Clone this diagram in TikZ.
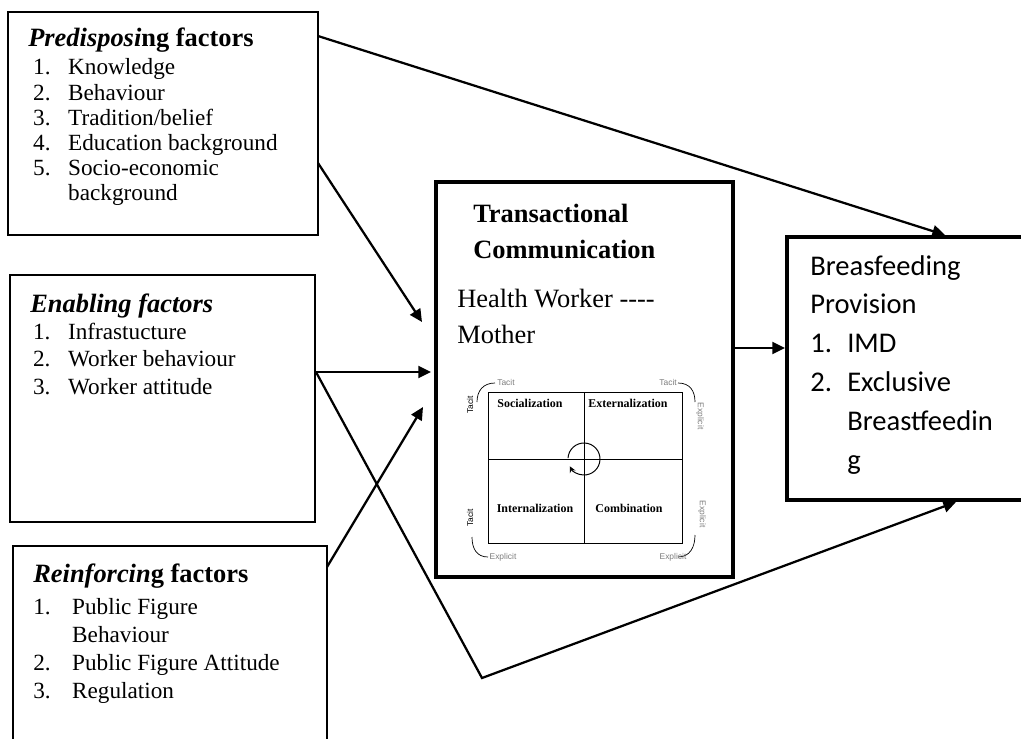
\documentclass[tikz,border=0pt]{standalone}
\usepackage{fontspec}
\setmainfont{Liberation Serif}
\setsansfont{Liberation Sans}
\newfontfamily\calibri{Carlito}
\usepackage{tikz}
\usetikzlibrary{arrows.meta, positioning, fit, calc}
\usepackage{xcolor}
\definecolor{cAxis}{RGB}{125,125,125}

\begin{document}
\begin{tikzpicture}[x=0.025cm, y=-0.025cm,
  box/.style={draw, line width=1.3pt, inner sep=0pt},
  thickbox/.style={draw, line width=3pt, inner sep=0pt},
  txt/.style={inner sep=0pt, anchor=base west},
  arr/.style={line width=1.6pt, -{Triangle[length=9pt,width=8.5pt]}},
  quad/.style={inner sep=0pt, font=\bfseries\fontsize{8.5}{10}\selectfont},
  axis/.style={inner sep=0pt, text=cAxis, font=\sffamily\fontsize{6}{7}\selectfont}]
  \useasboundingbox (0,0) rectangle (1021,738);
  % factor boxes
  \node[box, fit={(8,12) (318,235)}] (pre) {};
  \node[box, fit={(10,275) (315,522)}] (ena) {};
  \node[box, fit={(13,546) (327,750)}] (rei) {};
  \node[thickbox, fit={(436,182) (733,577)}] (tc) {};
  \node[thickbox, line width=2.8pt, fit={(787,237) (1045,500)}] (bp) {};

  \node[txt] (pretxt) at (28,46) {\fontsize{16.5}{17.8}\selectfont
    \begin{tabular}[t]{@{\hspace{3.5pt}}p{24.9pt}@{}l@{}}
      \multicolumn{2}{@{}l@{}}{\fontsize{18.8}{20}\selectfont\textbf{\textit{Predisposi}ng factors}}\\[2.8pt]
      1. & Knowledge\\
      2. & Behaviour\\
      3. & Tradition/belief\\
      4. & Education background\\
      5. & Socio-economic\\
         & background
    \end{tabular}};
  \node[txt] (enatxt) at (30,312) {\fontsize{16.5}{19.5}\selectfont
    \begin{tabular}[t]{@{\hspace{2pt}}p{24.9pt}@{}l@{}}
      \multicolumn{2}{@{}l@{}}{\fontsize{18.8}{20}\selectfont\textbf{\textit{Enabling factors}}}\\
      1. & Infrastucture\\
      2. & Worker behaviour\\
      3. & Worker attitude
    \end{tabular}};
  \node[txt] (reitxt) at (33,582) {\fontsize{16.5}{19.7}\selectfont
    \begin{tabular}[t]{@{}p{27.7pt}@{}l@{}}
      \multicolumn{2}{@{}l@{}}{\fontsize{18.8}{20}\selectfont\textbf{\textit{Reinforcin}g factors}}\\[3.7pt]
      1. & Public Figure\\
         & Behaviour\\
      2. & Public Figure Attitude\\
      3. & Regulation
    \end{tabular}};

  % transactional communication
  \node[txt] (tctitle) at (473,222) {\fontsize{18.8}{25.6}\selectfont\bfseries
    \begin{tabular}[t]{@{}l@{}}Transactional\\Communication\end{tabular}};
  \node[txt] (tcsub) at (457,307) {\fontsize{18.8}{25.6}\selectfont
    \begin{tabular}[t]{@{}l@{}}Health Worker -\kern0pt-\kern0pt-\kern0pt-\\Mother\end{tabular}};

  % SECI matrix
  \draw[line width=0.7pt] (488,392) rectangle (682,543);
  \draw[line width=0.7pt] (584,392) -- (584,543) (488,459) -- (682,459);
  \draw[line width=0.7pt, -{Stealth[length=4.5pt,width=4.5pt]}]
    (584,459) ++(177:0.4cm) arc[start angle=177, end angle=-153, radius=0.4cm];
  \node[quad] (soc) at (530,403) {Socialization};
  \node[quad] (ext) at (628,403) {Externalization};
  \node[quad] (int) at (535,508) {Internalization};
  \node[quad] (com) at (629,508) {Combination};
  \draw[line width=0.5pt] (495,383) .. controls (483,383) and (477,391) .. (477,402);
  \draw[line width=0.5pt] (678,383) .. controls (690,383) and (695,391) .. (695,402);
  \draw[line width=0.5pt] (695,535) .. controls (695,547) and (690,557) .. (678,557);
  \draw[line width=0.5pt] (472,537) .. controls (472,549) and (477,557) .. (488,557);
  \node[axis, anchor=west] (tacTL) at (497,382) {Tacit};
  \node[axis, anchor=east] (tacTR) at (677,382) {Tacit};
  \node[axis, text=black, rotate=90] (tacL1) at (470,405) {Tacit};
  \node[axis, text=black, rotate=90] (tacL2) at (470,518) {Tacit};
  \node[axis, rotate=-90] (expR1) at (700,416) {Explicit};
  \node[axis, rotate=-90] (expR2) at (702,514) {Explicit};
  \node[axis] (expBL) at (503,557) {Explicit};
  \node[axis] (expBR) at (673,557) {Explicit};

  % breastfeeding provision
  \node[txt] (bptxt) at (810,275) {\calibri\fontsize{20.3}{27.7}\selectfont
    \begin{tabular}[t]{@{}p{26.3pt}@{}l@{}}
      \multicolumn{2}{@{}l@{}}{Breasfeeding}\\
      \multicolumn{2}{@{}l@{}}{Provision}\\
      1. & IMD\\
      2. & Exclusive\\
         & Breastfeedin\\
         & g
    \end{tabular}};

  % connectors
  \coordinate (preTop) at (318,36);
  \coordinate (bpTop) at (945,235);
  \coordinate (preLow) at (318,163);
  \coordinate (tcIn1) at (422,322);
  \coordinate (enaOut) at (316,372);
  \coordinate (tcIn2) at (431,372);
  \coordinate (bend) at (482,678);
  \coordinate (bpBot) at (956,502);
  \coordinate (reiOut) at (327,567);
  \coordinate (tcIn3) at (423,407);
  \coordinate (bpIn) at (785,348);
  \draw[arr] (preTop) -- (bpTop);
  \draw[arr] (preLow) -- (tcIn1);
  \draw[arr] (enaOut) -- (tcIn2);
  \draw[arr] (enaOut) -- (bend) -- (bpBot);
  \draw[arr] (reiOut) -- (tcIn3);
  \draw[arr] (tc.east |- bpIn) -- (bpIn);
\end{tikzpicture}
\end{document}
